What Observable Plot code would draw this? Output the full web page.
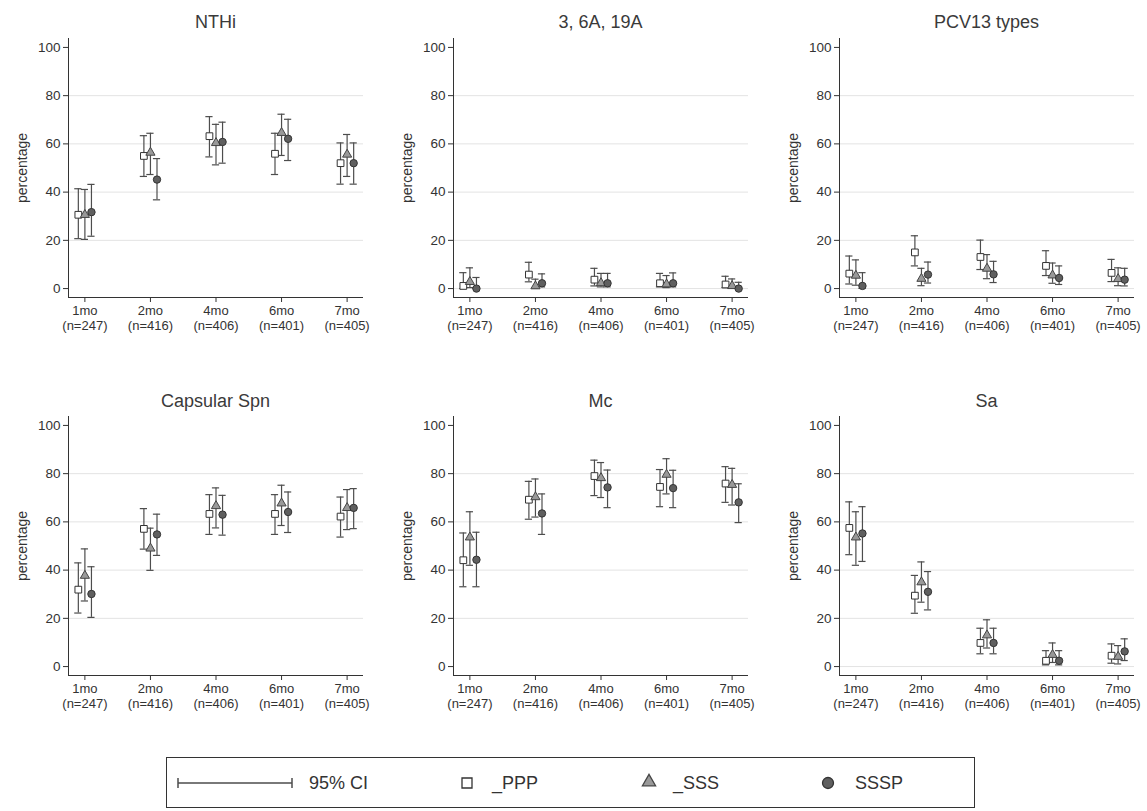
<!DOCTYPE html>
<html><head><meta charset="utf-8">
<script src="https://cdn.jsdelivr.net/npm/d3@7"></script>
<script src="https://cdn.jsdelivr.net/npm/@observablehq/plot@0.6"></script>
<style>
body{margin:0;background:#fff;}
#root{position:relative;width:1147px;height:811px;overflow:hidden;background:#fff;font-family:"Liberation Sans",Arial,Helvetica,sans-serif;color:#333;}
.title{position:absolute;font-size:18px;color:#3a3a3a;transform:translate(-50%,-50%);white-space:nowrap;}
.panel{position:absolute;}
</style></head><body><div id="root"></div>
<script>
// ---------- data ----------
const visits = ["1mo","2mo","4mo","6mo","7mo"];
const visitN = ["(n=247)","(n=416)","(n=406)","(n=401)","(n=405)"];
const groups = ["_PPP","_SSS","SSSP"];
const panelTitles = ["NTHi","3, 6A, 19A","PCV13 types","Capsular Spn","Mc","Sa"];
const yTicks = [0,20,40,60,80,100];
const ciLabel = "95% CI";

// each entry: [estimate, lower 95% CI, upper 95% CI] per visit
const NTHi_PPP  = [[30.6,20.7,41.4],[55.0,46.5,63.4],[63.2,54.6,71.3],[55.9,47.3,64.4],[52.0,43.3,60.4]];
const NTHi_SSS  = [[30.6,20.4,41.1],[56.4,47.3,64.4],[60.4,51.3,68.1],[64.6,55.2,72.3],[55.6,46.5,63.9]];
const NTHi_SSSP = [[31.7,21.7,43.2],[45.2,36.8,53.9],[60.8,52.0,69.0],[62.1,53.1,70.2],[52.0,43.3,60.4]];

const ST3_PPP  = [[1.1,0.0,6.6],[5.8,2.8,10.9],[3.7,1.1,8.4],[2.2,0.7,6.3],[1.7,0.4,5.1]];
const ST3_SSS  = [[2.8,0.4,8.6],[1.0,0.1,3.9],[2.3,0.7,6.3],[1.8,0.4,5.4],[1.1,0.3,4.0]];
const ST3_SSSP = [[0.0,0.0,4.6],[2.2,0.7,6.1],[2.2,0.7,6.3],[2.2,0.7,6.5],[0.0,0.0,2.6]];

const PCV_PPP  = [[6.2,1.9,13.5],[15.0,9.4,21.9],[13.1,7.9,20.1],[9.4,5.4,15.7],[6.5,2.9,12.1]];
const PCV_SSS  = [[5.4,1.4,11.9],[4.1,1.2,8.4],[8.3,4.1,14.1],[5.5,2.2,10.6],[4.0,1.2,8.6]];
const PCV_SSSP = [[1.1,0.1,6.6],[5.8,2.3,11.0],[5.9,2.5,11.3],[4.4,1.7,9.4],[3.7,1.1,8.4]];

const CAP_PPP  = [[31.9,22.2,43.0],[57.1,48.7,65.5],[63.3,54.8,71.3],[63.3,54.8,71.3],[62.2,53.7,70.3]];
const CAP_SSS  = [[37.7,27.2,48.8],[49.0,39.9,57.4],[66.6,57.5,74.1],[67.7,58.5,75.2],[65.8,56.8,73.4]];
const CAP_SSSP = [[30.1,20.4,41.4],[54.8,46.1,63.2],[63.0,54.5,71.0],[64.1,55.6,72.4],[65.8,57.2,73.8]];

const MC_PPP  = [[44.1,33.1,55.4],[69.2,61.1,76.8],[79.0,70.9,85.6],[74.5,66.3,81.7],[75.9,68.1,82.9]];
const MC_SSS  = [[53.6,42.0,64.2],[70.3,62.0,77.8],[78.2,70.1,84.6],[79.6,71.6,86.2],[75.4,67.0,82.2]];
const MC_SSSP = [[44.3,33.1,55.7],[63.5,54.8,71.6],[74.3,65.9,81.5],[74.0,65.9,81.4],[68.1,59.7,75.8]];

const SA_PPP  = [[57.5,46.4,68.3],[29.4,22.1,37.8],[9.8,5.3,15.9],[2.4,0.7,6.6],[4.5,1.4,9.4]];
const SA_SSS  = [[53.6,42.0,64.2],[35.0,26.7,43.4],[13.0,7.7,19.4],[4.9,1.7,9.8],[4.1,1.1,8.7]];
const SA_SSSP = [[55.2,43.6,66.3],[31.0,23.5,39.4],[9.8,5.3,15.9],[2.4,0.7,6.6],[6.3,2.5,11.5]];

const panelSeries = [
  [NTHi_PPP, NTHi_SSS, NTHi_SSSP],
  [ST3_PPP, ST3_SSS, ST3_SSSP],
  [PCV_PPP, PCV_SSS, PCV_SSSP],
  [CAP_PPP, CAP_SSS, CAP_SSSP],
  [MC_PPP, MC_SSS, MC_SSSP],
  [SA_PPP, SA_SSS, SA_SSSP]
];

// ---------- styling ----------
const FONT = '"Liberation Sans", Arial, Helvetica, sans-serif';
const AXIS = "#333";
const BAR = "#4d4d4d";
const symbolStyles = [
  {symbol: "square", r: 3.8, fill: "#ffffff", stroke: "#333"},
  {symbol: "triangle", r: 3.4, fill: "#999999", stroke: "#444"},
  {symbol: "circle", r: 3.7, fill: "#5f5f5f", stroke: "#333"}
];
const zeroGrid = [false, true, true, false, false, true];

const root = document.getElementById("root");
const M = {left: 68, right: 12, top: 10, bottom: 45};
const PW = 295, PH = 259;
const colX = [68, 453, 839];
const rowTop = [38, 416];
const titleY = [22, 401];
const XD = [0.75, 5.25], YD = [-3.7, 103.7];

function makePanel(pi) {
  const series = panelSeries[pi];
  const rows = [];
  groups.forEach((g, gi) => series[gi].forEach((d, i) => rows.push({g, gi, x: i + 1 + (gi - 1) * 0.1, est: d[0], lo: d[1], hi: d[2]})));
  const cap = 0.055;
  const grid = zeroGrid[pi] ? [0,20,40,60,80] : [20,40,60,80];
  const marks = [
    Plot.ruleY(grid, {stroke: "#e3e3e3", strokeWidth: 1}),
    Plot.axisY({ticks: yTicks, tickFormat: d => String(d), tickSize: 5, tickPadding: 3, fontSize: 13.5, label: null, stroke: AXIS, fill: AXIS}),
    Plot.axisX({ticks: [1,2,3,4,5], tickFormat: i => visits[i-1] + "\n" + visitN[i-1], tickSize: 5, tickPadding: 3, fontSize: 13, lineHeight: 1.08, label: null, stroke: AXIS, fill: AXIS}),
    Plot.ruleX([XD[0]], {stroke: AXIS, strokeWidth: 1}),
    Plot.ruleY([YD[0]], {stroke: AXIS, strokeWidth: 1}),
    Plot.ruleX(rows, {x: "x", y1: "lo", y2: "hi", stroke: BAR, strokeWidth: 1.2}),
    Plot.ruleY(rows, {y: "lo", x1: d => d.x - cap, x2: d => d.x + cap, stroke: BAR, strokeWidth: 1.2}),
    Plot.ruleY(rows, {y: "hi", x1: d => d.x - cap, x2: d => d.x + cap, stroke: BAR, strokeWidth: 1.2})
  ];
  symbolStyles.forEach((s, gi) => {
    marks.push(Plot.dot(rows.filter(d => d.gi === gi), {x: "x", y: "est", symbol: s.symbol, r: s.r, fill: s.fill, stroke: s.stroke, strokeWidth: 1}));
  });
  marks.push(Plot.text(["percentage"], {text: d => d, frameAnchor: "left", textAnchor: "middle", dx: -46, rotate: -90, fontSize: 14, fill: "#333"}));
  const svg = Plot.plot({
    width: M.left + PW + M.right,
    height: M.top + PH + M.bottom,
    marginLeft: M.left, marginRight: M.right, marginTop: M.top, marginBottom: M.bottom,
    style: {fontFamily: FONT, fontSize: "13px", color: AXIS, background: "white", overflow: "visible"},
    x: {domain: XD},
    y: {domain: YD},
    marks
  });
  const col = pi % 3, row = Math.floor(pi / 3);
  const wrap = document.createElement("div");
  wrap.className = "panel";
  wrap.style.left = (colX[col] - M.left) + "px";
  wrap.style.top = (rowTop[row] - M.top) + "px";
  wrap.appendChild(svg);
  root.appendChild(wrap);
  const t = document.createElement("div");
  t.className = "title";
  t.textContent = panelTitles[pi];
  t.style.left = (colX[col] + PW / 2) + "px";
  t.style.top = titleY[row] + "px";
  root.appendChild(t);
}
for (let i = 0; i < 6; i++) makePanel(i);

// ---------- legend ----------
const LW = 809, LH = 51;
const leg = d3.create("svg").attr("width", LW).attr("height", LH)
  .style("position", "absolute").style("left", "166px").style("top", "757px").style("overflow", "visible");
leg.append("rect").attr("x", 0.5).attr("y", 0.5).attr("width", LW - 1).attr("height", LH - 1)
  .attr("fill", "white").attr("stroke", "#333").attr("stroke-width", 1);
const ly = 26;
leg.append("line").attr("x1", 12).attr("x2", 126).attr("y1", ly).attr("y2", ly).attr("stroke", BAR).attr("stroke-width", 1.5);
leg.append("line").attr("x1", 12).attr("x2", 12).attr("y1", ly - 5).attr("y2", ly + 5).attr("stroke", BAR).attr("stroke-width", 1.5);
leg.append("line").attr("x1", 126).attr("x2", 126).attr("y1", ly - 5).attr("y2", ly + 5).attr("stroke", BAR).attr("stroke-width", 1.5);
const textStyle = sel => sel.attr("font-family", FONT).attr("font-size", 18).attr("fill", "#333").attr("dy", "0.35em").attr("y", ly);
leg.append("text").attr("x", 143).text(ciLabel).call(textStyle);
const symPos = [301, 483, 662];
const labPos = [326, 507, 689];
symbolStyles.forEach((s, i) => {
  const area = s.symbol === "square" ? 100 : s.symbol === "triangle" ? 75 : 95;
  const sym = s.symbol === "square" ? d3.symbolSquare : s.symbol === "triangle" ? d3.symbolTriangle : d3.symbolCircle;
  leg.append("path").attr("d", d3.symbol(sym, area)()).attr("transform", `translate(${symPos[i]},${ly + (s.symbol === "triangle" ? -1 : 0)})`)
    .attr("fill", s.fill).attr("stroke", s.stroke).attr("stroke-width", 1.3);
  leg.append("text").attr("x", labPos[i]).text(groups[i]).call(textStyle);
});
root.appendChild(leg.node());
</script></body></html>
